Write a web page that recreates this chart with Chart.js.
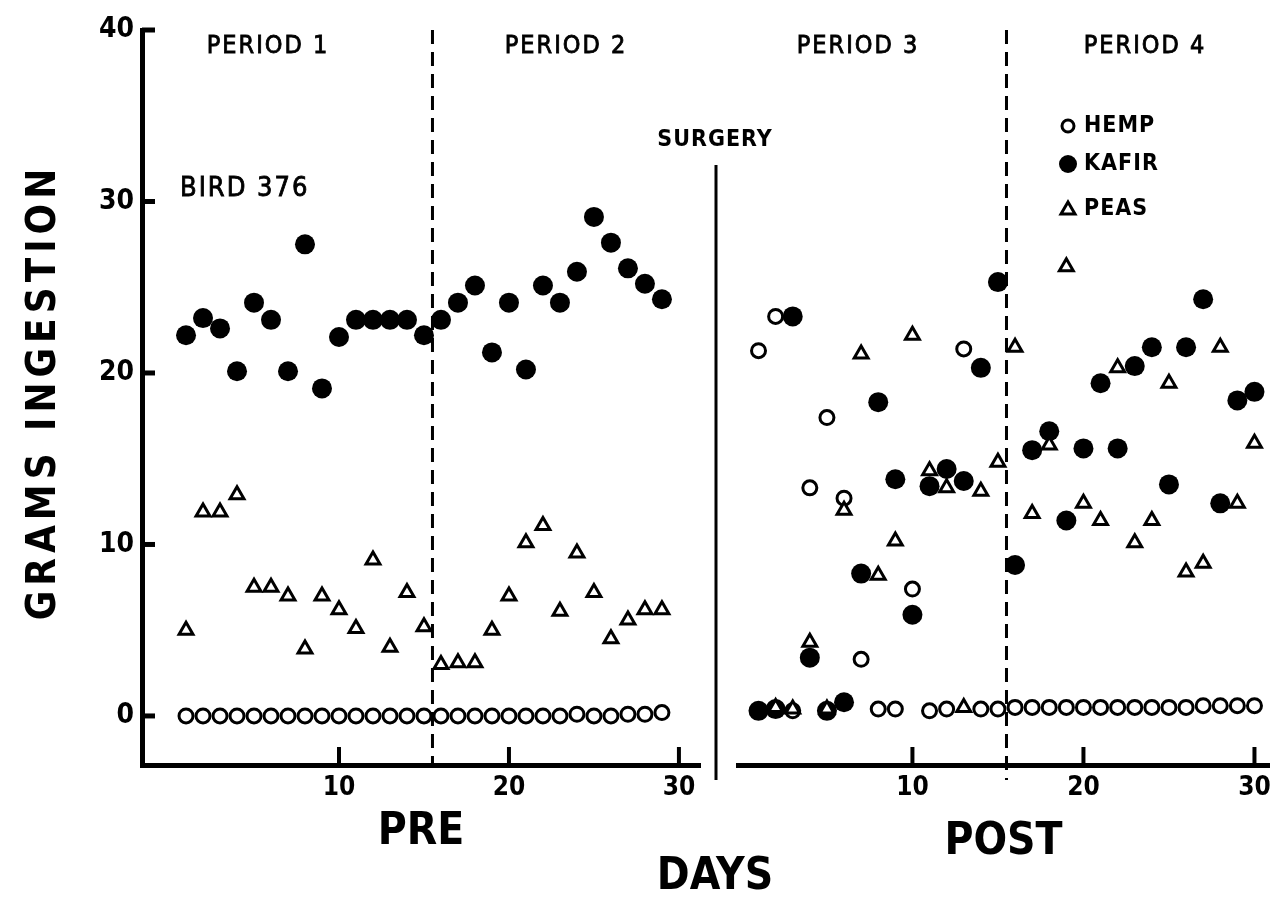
<!DOCTYPE html>
<html>
<head>
<meta charset="utf-8">
<script src="https://cdn.jsdelivr.net/npm/chart.js@4.4.1/dist/chart.umd.min.js"></script>
<style>
  html, body { margin: 0; padding: 0; background: #fff; }
  #wrap { position: relative; width: 1280px; height: 903px; }
  #wrap canvas { position: absolute; left: 0; top: 0; }
</style>
</head>
<body>
<div id="wrap">
  <canvas id="preChart" width="1280" height="903"></canvas>
  <canvas id="postChart" width="1280" height="903"></canvas>
</div>
<script>
// days of each half
const preDays = [1, 2, 3, 4, 5, 6, 7, 8, 9, 10, 11, 12, 13, 14, 15, 16, 17, 18, 19, 20, 21, 22, 23, 24, 25, 26, 27, 28, 29];
const postDays = [1, 2, 3, 4, 5, 6, 7, 8, 9, 10, 11, 12, 13, 14, 15, 16, 17, 18, 19, 20, 21, 22, 23, 24, 25, 26, 27, 28, 29, 30];

// grams eaten, before surgery
const preHemp = [0, 0, 0, 0, 0, 0, 0, 0, 0, 0, 0, 0, 0, 0, 0, 0, 0, 0, 0, 0, 0, 0, 0, 0.1, 0, 0, 0.1, 0.1, 0.2];
const preKafir = [22.2, 23.2, 22.6, 20.1, 24.1, 23.1, 20.1, 27.5, 19.1, 22.1, 23.1, 23.1, 23.1, 23.1, 22.2,
  23.1, 24.1, 25.1, 21.2, 24.1, 20.2, 25.1, 24.1, 25.9, 29.1, 27.6, 26.1, 25.2, 24.3];
const prePeas = [5.0, 11.9, 11.9, 12.9, 7.5, 7.5, 7.0, 3.9, 7.0, 6.2, 5.1, 9.1, 4.0, 7.2, 5.2,
  3.0, 3.1, 3.1, 5.0, 7.0, 10.1, 11.1, 6.1, 9.5, 7.2, 4.5, 5.6, 6.2, 6.2];

// grams eaten, after surgery
const postHemp = [21.3, 23.3, 0.3, 13.3, 17.4, 12.7, 3.3, 0.4, 0.4, 7.4, 0.3, 0.4, 21.4, 0.4, 0.4,
  0.5, 0.5, 0.5, 0.5, 0.5, 0.5, 0.5, 0.5, 0.5, 0.5, 0.5, 0.6, 0.6, 0.6, 0.6];
const postKafir = [0.3, 0.4, 23.3, 3.4, 0.3, 0.8, 8.3, 18.3, 13.8, 5.9, 13.4, 14.4, 13.7, 20.3, 25.3,
  8.8, 15.5, 16.6, 11.4, 15.6, 19.4, 15.6, 20.4, 21.5, 13.5, 21.5, 24.3, 12.4, 18.4, 18.9];
const postPeas = [null, 0.5, 0.4, 4.3, 0.4, 12.0, 21.1, 8.2, 10.2, 22.2, 14.3, 13.3, 0.5, 13.1, 14.8,
  21.5, 11.8, 15.8, 26.2, 12.4, 11.4, 20.3, 10.1, 11.4, 19.4, 8.4, 8.9, 21.5, 12.4, 15.9];

const yTicks = [0, 10, 20, 30, 40];
const xTicks = [10, 20, 30];
const periodSplit = 15.5;

const FONT = "'DejaVu Sans Condensed', 'DejaVu Sans', sans-serif";

function pts(xs, ys) {
  let out = [];
  for (let n = 0; n < xs.length; n++) {
    if (ys[n] !== null) out.push({ x: xs[n], y: ys[n] });
  }
  return out;
}

function makeSets(xs, hemp, kafir, peas) {
  return [
    { label: 'PEAS', data: pts(xs, peas), pointStyle: 'triangle', pointRadius: 8,
      pointBorderWidth: 3, pointBackgroundColor: '#fff', pointBorderColor: '#000', showLine: false },
    { label: 'KAFIR', data: pts(xs, kafir), pointStyle: 'circle', pointRadius: 10,
      pointBorderWidth: 0, pointBackgroundColor: '#000', pointBorderColor: '#000', showLine: false },
    { label: 'HEMP', data: pts(xs, hemp), pointStyle: 'circle', pointRadius: 7,
      pointBorderWidth: 3, pointBackgroundColor: '#fff', pointBorderColor: '#000', showLine: false }
  ];
}

function text(ctx, str, x, y, size, weight, align, spacing, stroke) {
  ctx.save();
  ctx.fillStyle = '#000';
  ctx.strokeStyle = '#000';
  ctx.font = weight + ' ' + size + 'px ' + FONT;
  ctx.textAlign = align || 'center';
  ctx.textBaseline = 'middle';
  ctx.letterSpacing = (spacing || 0) + 'px';
  ctx.fillText(str, x, y);
  if (stroke) {
    ctx.lineWidth = stroke;
    ctx.strokeText(str, x, y);
  }
  ctx.restore();
}

// dashed period line + stubby tick marks pointing into the plot
function drawFrame(chart, dashBottom) {
  const ctx = chart.ctx, xs = chart.scales.x, ys = chart.scales.y, area = chart.chartArea;
  ctx.save();
  ctx.strokeStyle = '#000';
  ctx.lineWidth = 3;
  ctx.setLineDash([14, 8]);
  let px = xs.getPixelForValue(periodSplit);
  ctx.beginPath();
  ctx.moveTo(px, area.top);
  ctx.lineTo(px, dashBottom);
  ctx.stroke();
  ctx.setLineDash([]);
  ctx.lineWidth = 4;
  xTicks.forEach(v => {
    let p = xs.getPixelForValue(v);
    ctx.beginPath();
    ctx.moveTo(p, area.bottom);
    ctx.lineTo(p, area.bottom - 18);
    ctx.stroke();
  });
  if (ys.options.display) {
    ctx.lineWidth = 5;
    yTicks.forEach(v => {
      let p = ys.getPixelForValue(v);
      ctx.beginPath();
      ctx.moveTo(area.left, p);
      ctx.lineTo(area.left + 13, p);
      ctx.stroke();
    });
  }
  ctx.restore();
}

const prePlugin = {
  id: 'preNotes',
  beforeDatasetsDraw(chart) {
    drawFrame(chart, chart.chartArea.bottom);
  },
  afterDraw(chart) {
    const ctx = chart.ctx;
    text(ctx, 'PERIOD 1', 268, 46, 25, 'normal', 'center', 2, 0.8);
    text(ctx, 'PERIOD 2', 566, 46, 25, 'normal', 'center', 2, 0.8);
    text(ctx, 'BIRD 376', 180, 189, 27, 'normal', 'left', 2, 0.8);
    text(ctx, 'SURGERY', 715, 140, 23, 'bold', 'center', 1);
    text(ctx, 'DAYS', 715, 878, 44, 'bold', 'center', 0);
    ctx.save();
    ctx.translate(45, 392);
    ctx.rotate(-Math.PI / 2);
    text(ctx, 'GRAMS INGESTION', 0, 0, 40, 'bold', 'center', 5);
    ctx.restore();
    // surgery divider
    ctx.save();
    ctx.strokeStyle = '#000';
    ctx.lineWidth = 3;
    ctx.beginPath();
    ctx.moveTo(716, 165);
    ctx.lineTo(716, 780);
    ctx.stroke();
    ctx.restore();
  }
};

const postPlugin = {
  id: 'postNotes',
  beforeDatasetsDraw(chart) {
    drawFrame(chart, chart.chartArea.bottom + 15);
  },
  afterDraw(chart) {
    const ctx = chart.ctx;
    text(ctx, 'PERIOD 3', 858, 46, 25, 'normal', 'center', 2, 0.8);
    text(ctx, 'PERIOD 4', 1145, 46, 25, 'normal', 'center', 2, 0.8);
    // legend
    ctx.save();
    ctx.strokeStyle = '#000';
    ctx.fillStyle = '#000';
    ctx.lineWidth = 3;
    ctx.beginPath();
    ctx.arc(1068, 126, 6, 0, Math.PI * 2);
    ctx.stroke();
    ctx.beginPath();
    ctx.arc(1068, 164, 9, 0, Math.PI * 2);
    ctx.fill();
    ctx.beginPath();
    ctx.moveTo(1068, 202);
    ctx.lineTo(1075, 214);
    ctx.lineTo(1061, 214);
    ctx.closePath();
    ctx.stroke();
    ctx.restore();
    text(ctx, 'HEMP', 1084, 126, 23, 'bold', 'left', 1);
    text(ctx, 'KAFIR', 1084, 164, 23, 'bold', 'left', 1);
    text(ctx, 'PEAS', 1084, 209, 23, 'bold', 'left', 1);
  }
};

function baseOptions(xMin, xMax, padding, title, titleGap, showY) {
  return {
    responsive: false,
    animation: false,
    layout: { padding: padding },
    plugins: { legend: { display: false }, tooltip: { enabled: false } },
    scales: {
      x: {
        type: 'linear',
        min: xMin,
        max: xMax,
        afterBuildTicks: s => { s.ticks = xTicks.map(v => ({ value: v })); },
        afterFit: s => { s.height = 110; },
        grid: { display: false, drawTicks: false },
        border: { display: true, width: 5, color: '#000' },
        ticks: { color: '#000', padding: 8, maxRotation: 0,
          font: { family: FONT, size: 26, weight: 'bold' } },
        title: { display: true, text: title, color: '#000', padding: { top: 0, bottom: titleGap },
          font: { family: FONT, size: 44, weight: 'bold' } }
      },
      y: {
        type: 'linear',
        display: showY,
        min: -2.86,
        max: 40,
        afterBuildTicks: s => { s.ticks = yTicks.map(v => ({ value: v })); },
        afterFit: s => { s.width = showY ? 142 : 0; },
        grid: { display: false, drawTicks: false },
        border: { display: true, width: 5, color: '#000' },
        ticks: { color: '#000', padding: 8,
          font: { family: FONT, size: 28, weight: 'bold' } }
      }
    }
  };
}

new Chart(document.getElementById('preChart'), {
  type: 'scatter',
  data: { datasets: makeSets(preDays, preHemp, preKafir, prePeas) },
  options: baseOptions(-1.59, 31.24, { left: 0, right: 580, top: 30, bottom: 28 }, 'PRE', 16, true),
  plugins: [prePlugin]
});

new Chart(document.getElementById('postChart'), {
  type: 'scatter',
  data: { datasets: makeSets(postDays, postHemp, postKafir, postPeas) },
  options: baseOptions(-0.2, 30.85, { left: 738, right: 10, top: 30, bottom: 28 }, 'POST', 6, false),
  plugins: [postPlugin]
});
</script>
</body>
</html>
